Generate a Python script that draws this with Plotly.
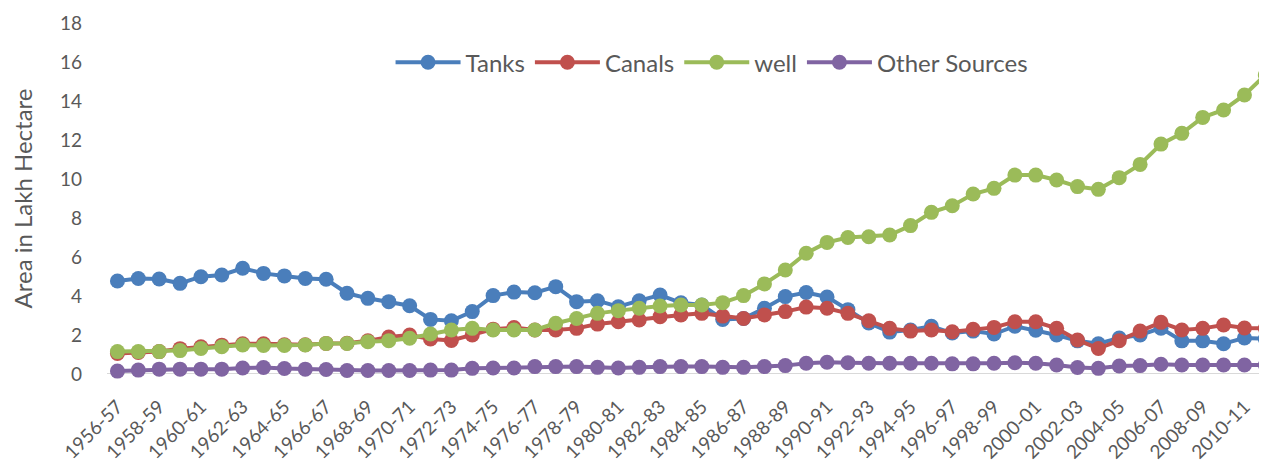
import plotly.graph_objects as go

years = [f"{y}-{str(y + 1)[-2:]}" for y in range(1956, 2012)]

tanks = [4.77, 4.90, 4.87, 4.65, 4.99, 5.08, 5.42, 5.16, 5.03, 4.90,
         4.86, 4.14, 3.88, 3.71, 3.50, 2.80, 2.73, 3.20, 4.02, 4.20,
         4.17, 4.48, 3.71, 3.76, 3.45, 3.76, 4.05, 3.65, 3.54, 2.80,
         2.85, 3.37, 3.97, 4.18, 3.95, 3.30, 2.62, 2.15, 2.26, 2.45,
         2.10, 2.20, 2.05, 2.45, 2.25, 2.00, 1.70, 1.55, 1.85, 2.00,
         2.35, 1.70, 1.70, 1.55, 1.85, 1.80]
canals = [1.05, 1.10, 1.15, 1.30, 1.40, 1.48, 1.55, 1.55, 1.50, 1.50,
          1.57, 1.58, 1.70, 1.90, 2.00, 1.80, 1.72, 2.00, 2.30, 2.38,
          2.26, 2.26, 2.34, 2.56, 2.68, 2.77, 2.94, 3.03, 3.11, 2.97,
          2.85, 3.03, 3.20, 3.43, 3.37, 3.11, 2.73, 2.34, 2.20, 2.26,
          2.17, 2.29, 2.39, 2.68, 2.68, 2.34, 1.74, 1.31, 1.71, 2.20,
          2.65, 2.26, 2.34, 2.51, 2.36, 2.34]
well = [1.15, 1.15, 1.15, 1.20, 1.31, 1.40, 1.49, 1.46, 1.46, 1.49,
        1.57, 1.57, 1.66, 1.71, 1.83, 2.05, 2.26, 2.34, 2.26, 2.26,
        2.26, 2.60, 2.85, 3.11, 3.25, 3.37, 3.49, 3.54, 3.54, 3.66,
        4.02, 4.62, 5.33, 6.19, 6.75, 7.00, 7.04, 7.13, 7.61, 8.29,
        8.63, 9.23, 9.52, 10.20, 10.20, 9.95, 9.61, 9.47, 10.07, 10.75,
        11.79, 12.34, 13.16, 13.54, 14.31, 15.33]
other = [0.15, 0.20, 0.25, 0.25, 0.25, 0.25, 0.31, 0.33, 0.28, 0.25,
         0.23, 0.18, 0.18, 0.18, 0.18, 0.20, 0.20, 0.29, 0.31, 0.31,
         0.38, 0.38, 0.38, 0.34, 0.31, 0.34, 0.38, 0.38, 0.38, 0.34,
         0.34, 0.38, 0.43, 0.55, 0.60, 0.58, 0.55, 0.55, 0.55, 0.55,
         0.52, 0.52, 0.55, 0.58, 0.55, 0.46, 0.33, 0.29, 0.41, 0.43,
         0.50, 0.46, 0.46, 0.46, 0.46, 0.46]

series = [("Tanks", tanks, "#4A7EBB"),
          ("Canals", canals, "#C0504D"),
          ("well", well, "#9BBB59"),
          ("Other Sources", other, "#8064A2")]

fig = go.Figure()
for name, vals, color in series:
    fig.add_trace(go.Scatter(
        x=years, y=vals, name=name, mode="lines+markers",
        line=dict(color=color, width=4),
        marker=dict(color=color, size=15),
        cliponaxis=False,
    ))

text_color = "#595959"
fig.update_layout(
    width=1259, height=453,
    margin=dict(l=99, r=0, t=15, b=87),
    paper_bgcolor="white", plot_bgcolor="white",
    font=dict(family="Lato, Open Sans, sans-serif", color=text_color),
    showlegend=True,
    legend=dict(orientation="h", x=0.5216, xanchor="center", y=0.887, yanchor="middle",
                font=dict(size=24, color=text_color), itemwidth=65,
                bgcolor="rgba(0,0,0,0)"),
    xaxis=dict(
        type="category", range=[-0.5, 55.08], automargin=False,
        tickvals=years[::2], tickangle=-45,
        tickfont=dict(size=19, color=text_color),
        ticklabelstandoff=17,
        showgrid=False, showline=False, zeroline=False, ticks="",
    ),
    yaxis=dict(
        range=[0, 18], dtick=2, showgrid=False, zeroline=False, automargin=False,
        showline=False, ticks="",
        tickfont=dict(size=19, color=text_color),
        ticklabelstandoff=24,
        title=dict(text="Area in Lakh Hectare", font=dict(size=24, color=text_color), standoff=22),
    ),
    shapes=[dict(type="line", xref="paper", yref="y", x0=0, x1=1, y0=0, y1=0,
                 line=dict(color="#D9D9D9", width=2), layer="below")],
)

fig.write_html("out.html")
